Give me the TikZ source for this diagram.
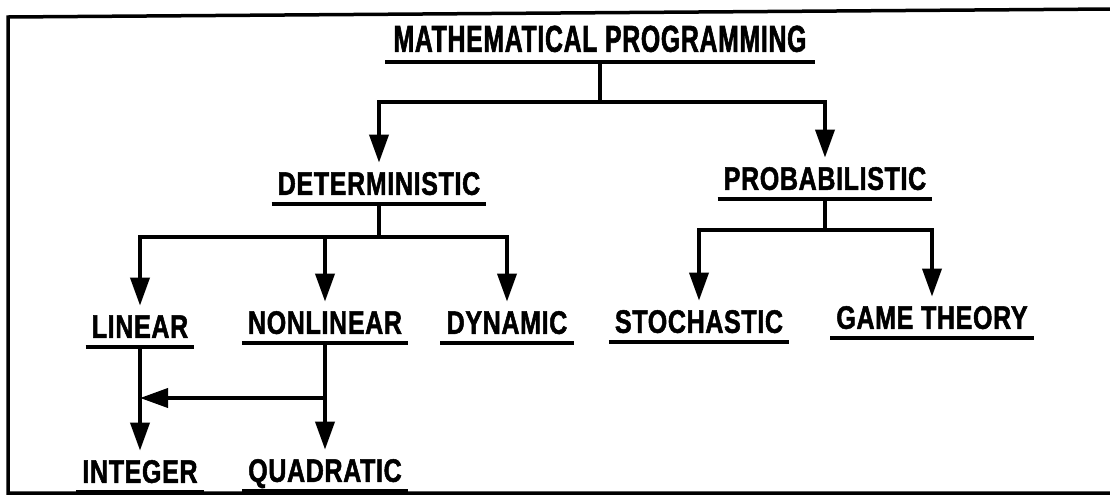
\documentclass[tikz,border=0pt]{standalone}
\usepackage{fontspec}
\usetikzlibrary{arrows.meta,calc}
\newfontfamily\labfont[FakeStretch=0.77,FakeBold=1.5,LetterSpace=2]{Liberation Sans Bold}
\newfontfamily\titlefont[FakeStretch=0.66,FakeBold=1.5,LetterSpace=2]{Liberation Sans Bold}
\tikzset{
  ul/.style={line width=3.8pt},
  wire/.style={line width=3.8pt},
  arr/.style={line width=3.8pt,-{Triangle[length=28pt,width=19pt]}},
  lab/.style={font=\labfont\fontsize{32.5}{32.5}\selectfont, inner xsep=6pt, inner ysep=9pt,
    text height=23pt, text depth=0pt, anchor=south,
    append after command={(\tikzlastnode.south west) edge[ul] (\tikzlastnode.south east)}},
  ttl/.style={lab, font=\titlefont\fontsize{37.5}{37.5}\selectfont, text height=27pt, inner xsep=8pt, inner ysep=10pt}
}
\begin{document}
\begin{tikzpicture}[x=1pt,y=-1pt]
\useasboundingbox (0,0) rectangle (1110,499);
\fill[white] (0,0) rectangle (1110,499);
% frame
\draw[line width=3.5pt] (1112,9) -- (8,17) -- (8,493) -- (1112,493);
% nodes
\node[ttl] (title) at (600,62) {MATHEMATICAL PROGRAMMING};
\node[lab] (det) at (379,204) {DETERMINISTIC};
\node[lab] (prob) at (825,199) {PROBABILISTIC};
\node[lab] (lin) at (140,347) {LINEAR};
\node[lab] (nonlin) at (325,343) {NONLINEAR};
\node[lab] (dyn) at (507,343) {DYNAMIC};
\node[lab] (stoch) at (699,342) {STOCHASTIC};
\node[lab] (game) at (932,338) {GAME THEORY};
\node[lab] (int) at (140,492) {INTEGER};
\node[lab] (quad) at (325,491) {QUADRATIC};
% connectors
\draw[wire] (title.south) -- ++(0,40) coordinate (tj);
\draw[arr] (tj) -| (det.north);
\draw[arr] (tj) -| (prob.north);
\draw[wire] (det.south) -- ++(0,33) coordinate (dj);
\draw[arr] (dj) -| (lin.north);
\draw[arr] (dj) -| (dyn.north);
\draw[arr] (dj -| nonlin.north) -- (nonlin.north);
\draw[wire] (prob.south) -- ++(0,31) coordinate (pj);
\draw[arr] (pj) -| (stoch.north);
\draw[arr] (pj) -| (game.north);
\draw[arr] (lin.south) -- (int.north);
\draw[arr] (nonlin.south) -- (quad.north);
\coordinate (nj) at ($(nonlin.south)+(0,55)$);
\draw[arr] (nj) -- (nj -| lin.south);
\end{tikzpicture}
\end{document}
